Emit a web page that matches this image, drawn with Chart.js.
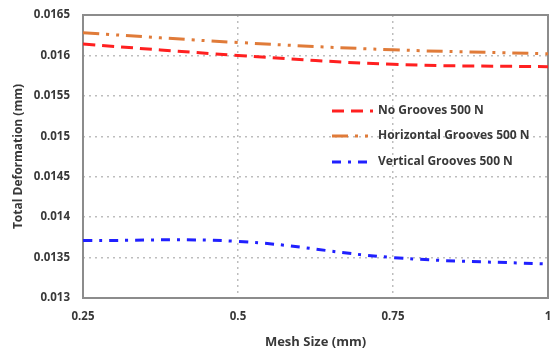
<!DOCTYPE html>
<html>
<head>
<meta charset="utf-8">
<script src="https://cdn.jsdelivr.net/npm/chart.js@4/dist/chart.umd.min.js"></script>
<style>
  html, body { margin: 0; padding: 0; background: #fff; }
  #wrap { width: 551px; height: 356px; position: relative; }
</style>
</head>
<body>
<div id="wrap"><canvas id="c" width="551" height="356"></canvas></div>
<script>
const meshSizes = [0.25, 0.5, 0.75, 1];
const noGrooves = [0.01614, 0.01600, 0.01589, 0.01586];
const horizontalGrooves = [0.01628, 0.01616, 0.01607, 0.01602];
const verticalGrooves = [0.01371, 0.01370, 0.01350, 0.01342];
const seriesNames = ['No Grooves 500 N', 'Horizontal Grooves 500 N', 'Vertical Grooves 500 N'];
const xTicks = [0.25, 0.5, 0.75, 1];
const yTicks = [0.013, 0.0135, 0.014, 0.0145, 0.015, 0.0155, 0.016, 0.0165];

const FONT = "'Open Sans', sans-serif";
const TXT = '#383838';
const mk = (ys) => meshSizes.map((x, i) => ({x: x, y: ys[i]}));

const frame = {
  id: 'frame',
  beforeDatasetsDraw(chart) {
    const a = chart.chartArea, ctx = chart.ctx;
    ctx.save();
    ctx.strokeStyle = '#8c8c8c';
    ctx.lineWidth = 2;
    ctx.strokeRect(a.left, a.top, a.right - a.left, a.bottom - a.top);
    ctx.restore();
  },
  afterDraw(chart) {
    const ctx = chart.ctx;
    ctx.save();
    const ys = [111, 136, 162];
    chart.data.datasets.forEach((ds, i) => {
      const y = ys[i];
      ctx.strokeStyle = ds.borderColor;
      ctx.lineWidth = 3;
      ctx.setLineDash(ds.borderDash);
      ctx.beginPath();
      ctx.moveTo(332, y);
      ctx.lineTo(373, y);
      ctx.stroke();
      ctx.setLineDash([]);
      ctx.fillStyle = TXT;
      ctx.font = "bold 12px " + FONT;
      ctx.textBaseline = 'middle';
      ctx.textAlign = 'left';
      ctx.fillText(ds.label, 378, y);
    });
    ctx.restore();
  }
};

new Chart(document.getElementById('c'), {
  type: 'line',
  data: {
    datasets: [
      {label: seriesNames[0], data: mk(noGrooves), borderColor: '#ff2020', borderWidth: 3, borderDash: [12, 7], tension: 0.4},
      {label: seriesNames[1], data: mk(horizontalGrooves), borderColor: '#e07b39', borderWidth: 3, borderDash: [16, 7, 3, 7, 3, 7], tension: 0.4},
      {label: seriesNames[2], data: mk(verticalGrooves), borderColor: '#2020ff', borderWidth: 3, borderDash: [9, 7, 3, 7], tension: 0.4}
    ]
  },
  options: {
    responsive: false,
    animation: false,
    devicePixelRatio: 1,
    layout: {padding: {top: 15, right: 3, left: 7, bottom: 2}},
    elements: {point: {radius: 0}},
    plugins: {legend: {display: false}, tooltip: {enabled: false}},
    scales: {
      x: {
        type: 'linear', min: 0.25, max: 1,
        afterBuildTicks: (s) => { s.ticks = xTicks.map(v => ({value: v})); },
        ticks: {font: {family: FONT, size: 11.5, weight: 'bold'}, color: TXT, padding: 12, maxRotation: 0,
          callback: (v) => String(v)},
        grid: {color: '#bdbdbd', lineWidth: 1.5, drawTicks: false},
        border: {display: false, dash: [2, 4]},
        title: {display: true, text: 'Mesh Size (mm)', font: {family: FONT, size: 13, weight: 'bold'}, color: TXT, padding: {top: 4, bottom: 4}},
        afterFit: (s) => { s.height = 56; s.paddingLeft = 0; s.paddingRight = 0; }
      },
      y: {
        type: 'linear', min: 0.013, max: 0.0165,
        afterBuildTicks: (s) => { s.ticks = yTicks.map(v => ({value: v})); },
        ticks: {font: {family: FONT, size: 11.5, weight: 'bold'}, color: TXT, padding: 13,
          callback: (v) => String(Number(v.toFixed(5)))},
        grid: {color: '#bdbdbd', lineWidth: 1.5, drawTicks: false},
        border: {display: false, dash: [2, 4]},
        title: {display: true, text: 'Total Deformation (mm)', font: {family: FONT, size: 12, weight: 'bold'}, color: TXT, padding: {bottom: 2}},
        afterFit: (s) => { s.width = 76; s.paddingTop = 0; s.paddingBottom = 0; }
      }
    }
  },
  plugins: [frame]
});
</script>
</body>
</html>
